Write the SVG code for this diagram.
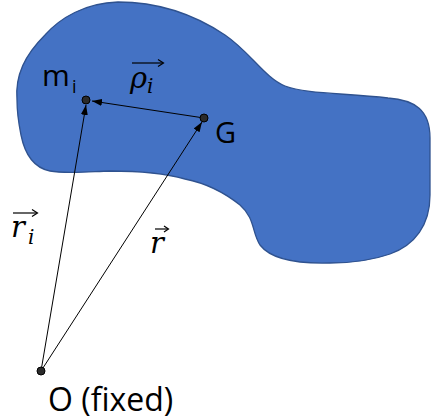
<svg xmlns="http://www.w3.org/2000/svg" width="431" height="420" viewBox="0 0 431 420">
<style>
.lbl{font-family:"Open Sans","Liberation Sans",sans-serif;fill:#000}
.math{font-family:"DejaVu Serif","Liberation Serif",serif;font-style:italic;fill:#000}
.conn{stroke:#000;stroke-width:1;fill:none}
.dot{fill:#2b2b2b;stroke:#000;stroke-width:1}
.acc{stroke:#000;stroke-width:1.2;fill:none}
</style>
<defs>
<marker id="ah" markerUnits="userSpaceOnUse" markerWidth="11" markerHeight="8" refX="10" refY="3.5" orient="auto">
<path d="M0,0 L10,3.5 L0,7 Z" fill="#000"/>
</marker>
</defs>
<rect width="431" height="420" fill="#fff"/>
<g id="body">
<path d="M17,100 C15,75 25,55 45,35 C60,18 85,3 118,2 C160,2 195,15 225,35 C250,52 265,78 285,86 C305,94 345,93 388,98 C415,100 430,110 430,138 L430,195 C430,225 415,245 390,254 C370,261 350,263 330,263 C295,264 270,258 260,245 C252,233 255,218 240,205 C225,193 205,183 185,179 C160,172 130,171 110,171 C85,172 65,174 50,171 C35,168 25,155 21,135 C18,120 17,110 17,100 Z" fill="#4472C4" stroke="#2F528F" stroke-width="1.3"/>
</g>
<g id="connectors">
<line class="conn" x1="204" y1="118" x2="92" y2="101" marker-end="url(#ah)"/>
<line class="conn" x1="41" y1="371" x2="86" y2="105" marker-end="url(#ah)"/>
<line class="conn" x1="41" y1="371" x2="202" y2="122" marker-end="url(#ah)"/>
</g>
<g id="node-mi">
<circle class="dot" cx="86" cy="100" r="4"/>
<text class="lbl" x="42" y="86" font-size="30">m</text>
<text class="lbl" x="72" y="93" font-size="18">i</text>
</g>
<g id="node-G">
<circle class="dot" cx="204" cy="118" r="4"/>
<text class="lbl" x="215" y="143" font-size="29">G</text>
</g>
<g id="node-O">
<circle class="dot" cx="41" cy="371" r="4"/>
<text class="lbl" x="48" y="411" font-size="32">O (fixed)</text>
</g>
<g id="labels">
<text class="math" x="130" y="88" font-size="29">ρ</text>
<text class="math" x="147" y="93" font-size="20">i</text>
<line class="acc" x1="132" y1="63" x2="163" y2="63"/>
<path class="acc" d="M158,59.5 L163.5,63 L158,66.5"/>
<text class="math" x="11" y="237" font-size="29">r</text>
<text class="math" x="28" y="244" font-size="20">i</text>
<line class="acc" x1="13" y1="213" x2="37" y2="213"/>
<path class="acc" d="M32,209.5 L37.5,213 L32,216.5"/>
<text class="math" x="150" y="253" font-size="29">r</text>
<line class="acc" x1="155" y1="229" x2="168" y2="229"/>
<path class="acc" d="M164,226 L168.5,229 L164,232"/>
</g>
</svg>
